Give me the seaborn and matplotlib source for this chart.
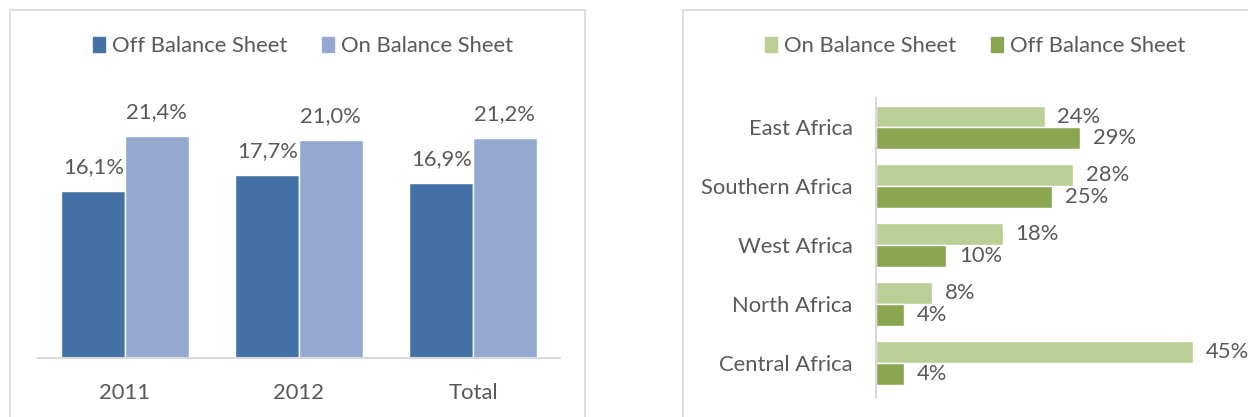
import pandas as pd
import seaborn as sns
import matplotlib
matplotlib.use('Agg')
import matplotlib.pyplot as plt
from matplotlib.patches import Rectangle

# left chart: by year
years = ["2011", "2012", "Total"]
off_year = [16.1, 17.7, 16.9]
on_year = [21.4, 21.0, 21.2]

# right chart: by region
regions = ["East Africa", "Southern Africa", "West Africa", "North Africa", "Central Africa"]
on_region = [24, 28, 18, 8, 45]
off_region = [29, 25, 10, 4, 4]

sns.set_theme(style="white")
plt.rcParams['font.family'] = ['Lato', 'DejaVu Sans']

grey_txt = "#595959"
grey_line = "#d9d9d9"
fs = 15.8

df_year = pd.DataFrame({
    "Year": years * 2,
    "Type": ["Off Balance Sheet"] * 3 + ["On Balance Sheet"] * 3,
    "Value": off_year + on_year,
})
df_region = pd.DataFrame({
    "Region": regions * 2,
    "Type": ["On Balance Sheet"] * 5 + ["Off Balance Sheet"] * 5,
    "Value": on_region + off_region,
})

W, H = 1248, 417
fig = plt.figure(figsize=(12.48, 4.17), dpi=100)

# panel borders
fig.patches.append(Rectangle((10 / W, -0.05), 575 / W, 1 - 10 / H + 0.05, transform=fig.transFigure,
                             fill=False, edgecolor=grey_line, linewidth=1.2))
fig.patches.append(Rectangle((683 / W, -0.05), 600 / W, 1 - 10 / H + 0.05, transform=fig.transFigure,
                             fill=False, edgecolor=grey_line, linewidth=1.2))

# ---- left: vertical bars
ax1 = fig.add_axes([38 / W, 1 - 358 / H, 522 / W, 259 / H])
sns.barplot(data=df_year, x="Year", y="Value", hue="Type",
            hue_order=["Off Balance Sheet", "On Balance Sheet"],
            palette=["#4472a6", "#95a9d0"], saturation=1, width=0.73,
            gap=0, ax=ax1, legend=False)
ax1.set_ylim(0, 25)
ax1.set_xlim(-0.5, 2.5)
for c in ax1.containers:
    vals = [b.get_height() for b in c]
    ax1.bar_label(c, labels=[f"{v:.1f}%".replace('.', ',') for v in vals],
                  padding=10, fontsize=fs, color=grey_txt)
for s in ["left", "right", "top"]:
    ax1.spines[s].set_visible(False)
ax1.spines["bottom"].set_color(grey_line)
ax1.spines["bottom"].set_linewidth(1.5)
ax1.set_xlabel("")
ax1.set_ylabel("")
ax1.set_yticks([])
ax1.tick_params(axis="x", length=0, labelsize=fs, labelcolor=grey_txt, pad=18)

h1 = [Rectangle((0, 0), 1, 1, color="#4472a6"), Rectangle((0, 0), 1, 1, color="#95a9d0")]
fig.legend(h1, ["Off Balance Sheet", "On Balance Sheet"], loc="center",
           bbox_to_anchor=(303 / W, 1 - 46 / H), ncol=2, frameon=False,
           fontsize=fs, labelcolor=grey_txt, handlelength=0.55, handleheight=0.7,
           handletextpad=0.3, columnspacing=1.6)

# ---- right: horizontal bars
ax2 = fig.add_axes([876 / W, 1 - 397 / H, 352 / W, 299 / H])
sns.barplot(data=df_region, y="Region", x="Value", hue="Type", orient="h",
            hue_order=["On Balance Sheet", "Off Balance Sheet"],
            palette=["#b9cf96", "#8aa74f"], saturation=1, width=0.745,
            gap=0, ax=ax2, legend=False)
ax2.set_xlim(0, 50)
ax2.set_ylim(4.57, -0.5)
for c in ax2.containers:
    vals = [b.get_width() for b in c]
    ax2.bar_label(c, labels=[f"{v:.0f}%" for v in vals],
                  padding=9, fontsize=fs, color=grey_txt, clip_on=False)
for s in ["bottom", "right", "top"]:
    ax2.spines[s].set_visible(False)
ax2.spines["left"].set_color(grey_line)
ax2.spines["left"].set_linewidth(1.5)
ax2.set_xlabel("")
ax2.set_ylabel("")
ax2.set_xticks([])
ax2.tick_params(axis="y", length=0, labelsize=fs, labelcolor=grey_txt, pad=17)

h2 = [Rectangle((0, 0), 1, 1, color="#b9cf96"), Rectangle((0, 0), 1, 1, color="#8aa74f")]
fig.legend(h2, ["On Balance Sheet", "Off Balance Sheet"], loc="center",
           bbox_to_anchor=(975 / W, 1 - 46 / H), ncol=2, frameon=False,
           fontsize=fs, labelcolor=grey_txt, handlelength=0.55, handleheight=0.7,
           handletextpad=0.3, columnspacing=1.6)

fig.savefig("out.png", dpi=100)
